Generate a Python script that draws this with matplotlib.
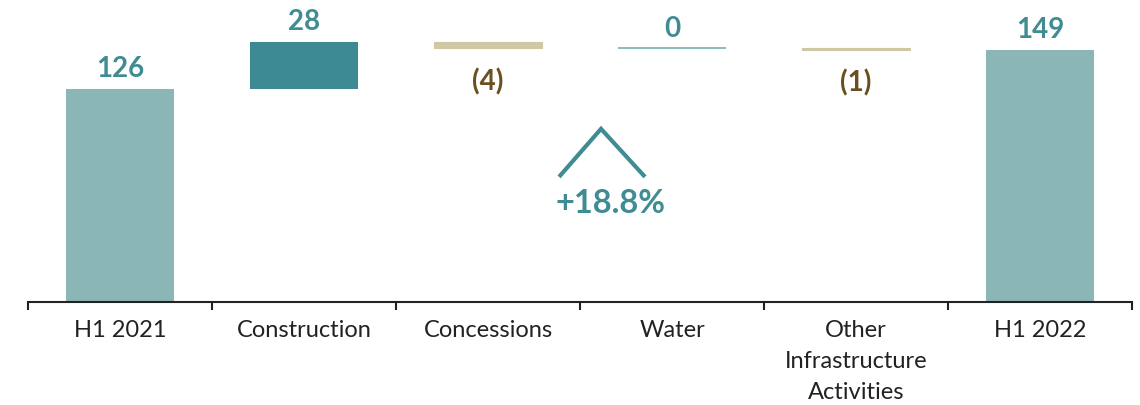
import matplotlib
matplotlib.use("Agg")
import matplotlib.pyplot as plt
import numpy as np

categories = ["H1 2021", "Construction", "Concessions", "Water", "Other\nInfrastructure\nActivities", "H1 2022"]
values = [126, 28, -4, 0, -1, 149]
labels = ["126", "28", "(4)", "0", "(1)", "149"]
growth_label = "+18.8%"

c_total = "#8AB6B5"
c_pos = "#3D8A92"
c_neg = "#CFC8A4"
c_zero = "#7FB5BA"
c_lab_pos = "#3F8C93"
c_lab_neg = "#6B4F1F"

plt.rcParams['font.family'] = ['Lato', 'DejaVu Sans']

fig = plt.figure(figsize=(11.4, 4.06), dpi=100)
ax = fig.add_axes([0.0246, 0.2537, 0.9684, 0.7463])

x = np.arange(len(categories))
width = 0.587
running = 0
for i, v in enumerate(values):
    if i == 0 or i == len(values) - 1:
        running = v
        ax.bar(x[i], v, bottom=0, width=width, color=c_total)
        ax.text(x[i], v + 4.5, labels[i], ha="center", va="bottom", fontsize=20,
                fontweight="bold", color=c_lab_pos)
    elif v > 0:
        ax.bar(x[i], v, bottom=running, width=width, color=c_pos)
        running += v
        ax.text(x[i], running + 4.5, labels[i], ha="center", va="bottom", fontsize=20,
                fontweight="bold", color=c_lab_pos)
    elif v < 0:
        ax.bar(x[i], v, bottom=running, width=width, color=c_neg,
               edgecolor=c_neg, linewidth=0.8)
        running += v
        ax.text(x[i], running - 11, labels[i], ha="center", va="top", fontsize=20,
                fontweight="bold", color=c_lab_neg)
    else:
        ax.hlines(running, x[i] - width / 2, x[i] + width / 2, color=c_zero, linewidth=1.3)
        ax.text(x[i], running + 4.5, labels[i], ha="center", va="bottom", fontsize=20,
                fontweight="bold", color=c_lab_pos)

# growth chevron
ax.plot([2.386, 2.614, 2.853], [74, 102.4, 74], color=c_lab_pos,
        linewidth=3, solid_capstyle="butt", solid_joinstyle="miter")
ax.text(2.668, 59, growth_label, ha="center", va="center", fontsize=23.5,
        fontweight="bold", color=c_lab_pos)

ax.set_xlim(-0.5, len(categories) - 0.5)
ax.set_ylim(0, 179.2)
for s in ["top", "right", "left"]:
    ax.spines[s].set_visible(False)
ax.spines["bottom"].set_linewidth(1.5)
ax.spines["bottom"].set_color("#222222")
ax.set_yticks([])
ax.set_xticks(np.arange(len(categories) + 1) - 0.5)
ax.set_xticklabels([])
ax.tick_params(axis="x", which="major", length=6, width=1.5, color="#222222")
ax.set_xticks(x, minor=True)
ax.set_xticklabels(categories, minor=True, fontsize=17, color="#222222", linespacing=1.6)
ax.tick_params(axis="x", which="minor", length=0, pad=12)

fig.savefig("out.png", dpi=100)
